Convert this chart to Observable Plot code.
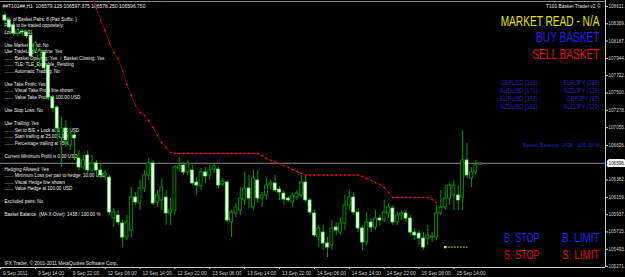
<!DOCTYPE html>
<html><head><meta charset="utf-8">
<script src="https://cdn.jsdelivr.net/npm/d3@7"></script>
<script src="https://cdn.jsdelivr.net/npm/@observablehq/plot@0.6"></script>
<style>html,body{margin:0;padding:0;background:#000;overflow:hidden;}</style>
</head><body><div id="chart"></div>
<script>
// ---------- data ----------
const symbolTitle = "##T101##,H1";
const bars = [1,2,3,4,5,6,7,8,9,10,11,12,13,14,15,16,17,18,19,20,21,22,23,24,25,26,27,28,29,30,31,32,33,34,35,36,37,38,39,40,41,42,43,44,45,46,47,48,49,50,51,52,53,54,55,56,57,58,59,60,61,62,63,64,65,66,67,68,69,70,71,72,73,74,75,76,77,78,79,80,81,82,83,84,85,86,87,88,89,90,91,92,93,94,95,96,97,98,99,100,101,102,103,104,105,106,107,108,109,110];
const open = [108495,108431,108367,108264,108290,108277,108238,108046,107943,108020,107853,107442,107314,106928,107044,106825,106954,106658,106543,106697,106504,106594,106504,106440,106414,105887,105926,105823,105643,105733,106157,106080,106273,106440,106594,106093,106119,106157,105952,105990,106530,106568,106479,106504,106350,106298,106479,106440,106517,106517,106324,106350,105836,105952,105990,106119,106273,106029,106376,106144,106183,106311,106337,106260,106208,106144,106093,106157,106183,106350,106119,105952,105643,105707,105566,105540,105772,105707,105823,106054,106157,105964,105759,105579,105836,105772,105887,105862,105952,106016,105836,105926,105952,105887,105707,105694,105630,105630,105643,105643,105952,106029,106144,106183,106183,106157,106633,106401,106479,106579.125];
const high = [108534,108470,108405,108328,108315,108303,108264,108161,108071,108046,107892,107468,107339,107185,107146,107018,107018,106761,106697,106761,106697,106633,106594,106504,106440,106016,105990,105862,105926,106286,106221,106376,106504,106658,106633,106247,106401,106247,106144,106568,106671,106607,106633,106568,106414,106530,106543,106568,106594,106543,106401,106376,105990,106080,106286,106479,106440,106504,106504,106221,106401,106376,106440,106298,106247,106170,106208,106247,106440,106440,106144,105990,105797,105797,105643,105862,105836,105887,106183,106247,106221,106016,105797,105964,105887,105990,105926,106119,106080,106054,105964,105990,105990,105926,105759,105733,105707,105797,105707,106054,106247,106311,106337,106376,106311,107018,106851,106543,106633,106597.375];
const low = [108380,108303,108226,108213,108226,108200,107943,108020,107827,107789,107403,107249,106890,106543,106800,106761,106633,106504,106504,106440,106479,106440,106401,106376,105926,105772,105797,105514,105605,105643,106054,105990,106221,106376,106054,106029,105990,105797,105797,105926,106479,106440,106440,106311,106183,106247,106337,106376,106466,106273,106298,105836,105643,105900,105926,106054,106016,105990,106080,106029,106119,106247,106221,106119,106054,106093,106029,106119,106157,106093,105926,105643,105514,105476,105386,105476,105669,105669,105733,105990,105926,105707,105476,105540,105707,105733,105797,105836,105887,105797,105797,105862,105836,105669,105605,105540,105476,105540,105579,105605,105926,105990,106054,105990,105990,105990,106401,106286,106440,106578.25];
const close = [108431,108341,108264,108303,108277,108226,107969,108136,108033,107815,107442,107301,107044,107044,106890,106980,106915,106543,106633,106504,106594,106504,106440,106466,105964,105964,105836,105643,105836,106157,106093,106273,106440,106594,106080,106183,106286,105952,105990,106543,106556,106479,106594,106337,106311,106479,106427,106504,106556,106311,106363,105862,105964,106029,106144,106273,106144,106401,106144,106183,106311,106337,106247,106221,106131,106119,106183,106208,106350,106119,105964,105669,105759,105566,105514,105759,105733,105823,106054,106157,105964,105759,105579,105836,105772,105887,105862,105964,106029,105836,105926,105952,105887,105707,105669,105630,105514,105669,105656,105952,106029,106144,106311,106311,106119,106633,106440,106479,106568,106596.75];

// red dotted (take-profit / trailing) line
const redBars = [20,21,22,23,24,25,26,27,28,29,30,31,32,33,34,35,36,37,38,39,40,41,42,43,44,45,46,47,48,49,50,51,52,53,54,55,56,57,58,59,60,61,62,63,64,65,66,67,68,69,70,71,72,73,74,75,76,77,78,79,80,81,82,83,84,85,86,87,88,89,90,91,92,93,94,95,96,97,98,99,100];
const redValues = [108945,108752,108585,108431,108303,108136,108020,107943,107789,107609,107468,107339,107249,107211,107146,107057,106954,106864,106800,106735,106723,106723,106723,106723,106723,106723,106723,106723,106723,106723,106723,106723,106723,106723,106723,106723,106723,106723,106723,106723,106697,106658,106633,106620,106594,106568,106543,106517,106491,106466,106446,106446,106446,106446,106446,106446,106446,106446,106446,106446,106446,106446,106446,106427,106401,106376,106350,106324,106286,106221,106157,106157,106157,106157,106157,106157,106157,106157,106157,106131,106093];

// yellow-green short line
const ygBars = [102,103,104,105,106,107];
const ygValues = [105520,105520,105520,105520,105520,105520];

// axes
const priceTicks = [108611,108389,108167,107944,107722,107500,107278,107055,106826,106382,106159,105937,105715,105493,105271];
const timeTicks = [0,8,16,24,32,40,48,56,64,72,80,88,96,104];
const timeLabels = ["9 Sep 2011","9 Sep 14:00","9 Sep 22:00","12 Sep 06:00","12 Sep 14:00","12 Sep 22:00","13 Sep 06:00","13 Sep 14:00","13 Sep 22:00","14 Sep 06:00","14 Sep 14:00","14 Sep 22:00","15 Sep 06:00","15 Sep 14:00"];

// texts
const infoLines = [
"No. of Basket Pairs: 8 (Pair Suffix: )",
"Pairs to be traded oppositely: ",
"Lot Size: 0.01",
"",
"Use Market Read: No",
"Use TradeLogic Engine: Yes",
"....... Basket Opening: Yes  /  Basket Closing: Yes",
"....... TLE: TLE_Example_Pending",
"....... Automatic Trading: No",
"",
"Use Take Profit: Yes",
"....... Visual Take Profit line shown",
"....... Value Take Profit at 100.00 USD",
"",
"Use Stop Loss: No",
"",
"Use Trailing: Yes",
"....... Set to B/E + Lock at 10.00 USD",
"....... Start trailing at 25.00 USD",
"....... Percentage trailing at 75%",
"",
"Current Minimum Profit is 0.00 USD",
"",
"Hedging Allowed: Yes",
"....... Minimum Loss per pair to hedge: 10.00 USD",
"....... Visual Hedge line shown",
"....... Value Hedge at 100.00 USD",
"",
"Excluded pairs: No",
"",
"Basket Balance  (MA X-Over): 1438 / 100.00 %"
];
const copyrightText = "IFX Trader, \u00a9 2001-2011 MetaQuotes Software Corp.";
const eaTitle = "T101 Basket Trader v2 \u00a9";
const marketRead = "MARKET READ - N/A";
const buyBasket = "BUY BASKET";
const sellBasket = "SELL BASKET";
const pairsLeft = ["GBPUSD (110)","AUDUSD (171)","EURUSD (372)","NZDUSD (162)"];
const pairsRight = ["EURJPY (289)","NZDJPY (129)","GBPJPY (83)","AUDJPY (120)"];
const basketBalance = "Basket Balance: 1438 / 100.00 %";
const bStop = "B. STOP", bLimit = "B. LIMIT", sStop = "S. STOP", sLimit = "S. LIMIT";

// ---------- build ----------
const candles = bars.map((b, i) => ({b, o: open[i], h: high[i], l: low[i], c: close[i]}));
const redPts = redBars.map((b, i) => ({b, v: redValues[i]}));
const ygPts = ygBars.map((b, i) => ({b, v: ygValues[i]}));
const last = candles[candles.length - 1];
const titleText = `${symbolTitle}  ${last.o.toFixed(3)} ${last.h.toFixed(3)} ${last.l.toFixed(3)} ${last.c.toFixed(3)}`;
const timeMap = new Map(timeTicks.map((t, i) => [t, timeLabels[i]]));
const xDomain = [0, 138.76];
const yDomain = [105258, 108688];
const font = "'Liberation Sans', Arial, sans-serif";
const lcdFill = {yellow: "#e2e200", blue: "#2222f0", red: "#e01010", dimBlue: "#2626b8"};

const chart = Plot.plot({
  width: 625, height: 277,
  marginLeft: 0, marginRight: 20, marginTop: 0, marginBottom: 10,
  style: {background: "#000", color: "#d0d0d0", fontFamily: font, fontSize: "4.8px"},
  x: {domain: xDomain, axis: null},
  y: {domain: yDomain, axis: null},
  marks: [
    // left info block (behind chart)
    Plot.text([infoLines.map(s => s || "\u00a0").join("\n")], {frameAnchor: "top-left", dx: 4, dy: 15.4, lineAnchor: "top", textAnchor: "start", fontSize: 4.6, lineHeight: 1.42, fill: "#ececec"}),
    Plot.text([titleText], {frameAnchor: "top-left", dx: 2, dy: 5.5, lineAnchor: "middle", textAnchor: "start", fontSize: 5, fill: "#e6e6e6"}),
    Plot.text([copyrightText], {frameAnchor: "top-left", dx: 4, dy: 263, lineAnchor: "middle", textAnchor: "start", fontSize: 4.8, fill: "#e0e0e0"}),
    // frame lines
    Plot.ruleY([yDomain[1]], {stroke: "#8a8a8a", dy: 1}),
    Plot.ruleY([yDomain[0]], {stroke: "#c8c8c8"}),
    Plot.ruleX([xDomain[1]], {stroke: "#c8c8c8"}),
    // bid line
    Plot.ruleY([last.c], {stroke: "#8c8c8c", strokeWidth: 1}),
    // red trailing line
    Plot.line(redPts, {x: "b", y: "v", stroke: "#8a0000", strokeWidth: 1, clip: true}),
    Plot.dot(redPts, {x: "b", y: "v", symbol: "square", r: 0.8, fill: "#ff2020", clip: true}),
    // candles
    Plot.ruleX(candles, {x: "b", y1: "l", y2: "h", stroke: "#009c00", strokeWidth: 1}),
    Plot.rect(candles, {filter: d => d.c < d.o, x1: d => d.b - 0.34, x2: d => d.b + 0.34, y1: "o", y2: "c", fill: "#ffffff", stroke: "#38ff38", strokeWidth: 0.7}),
    Plot.rect(candles, {filter: d => d.c >= d.o, x1: d => d.b - 0.34, x2: d => d.b + 0.34, y1: "o", y2: "c", fill: "#000000", stroke: "#00a800", strokeWidth: 0.8}),
    // yellow-green line
    Plot.line(ygPts, {x: "b", y: "v", stroke: "#a8e000", strokeWidth: 1, strokeDasharray: "1.2,1.8"}),
    Plot.dot([ygPts[0]], {x: "b", y: "v", r: 1.4, fill: "#b4f000"}),
    // right-side labels
    Plot.text([eaTitle], {frameAnchor: "top-right", dx: -5, dy: 6, lineAnchor: "middle", textAnchor: "end", fontSize: 4.9, fill: "#e6e6e6"}),
    Plot.text([marketRead], {frameAnchor: "top-right", dx: -6, dy: 20.5, lineAnchor: "middle", textAnchor: "end", fontSize: 13, fill: lcdFill.yellow}),
    Plot.text([buyBasket], {frameAnchor: "top-right", dx: -6, dy: 37, lineAnchor: "middle", textAnchor: "end", fontSize: 13, fill: lcdFill.blue}),
    Plot.text([sellBasket], {frameAnchor: "top-right", dx: -6, dy: 53.5, lineAnchor: "middle", textAnchor: "end", fontSize: 13, fill: lcdFill.red}),
    Plot.text([pairsLeft.join("\n")], {frameAnchor: "top-right", dx: -68, dy: 78.7, lineAnchor: "top", textAnchor: "end", fontSize: 6.5, lineHeight: 1.23, fill: lcdFill.dimBlue}),
    Plot.text([pairsRight.join("\n")], {frameAnchor: "top-right", dx: -6, dy: 78.7, lineAnchor: "top", textAnchor: "end", fontSize: 6.5, lineHeight: 1.23, fill: lcdFill.dimBlue}),
    Plot.text([basketBalance], {frameAnchor: "top-right", dx: -6, dy: 145, lineAnchor: "middle", textAnchor: "end", fontSize: 5.2, fill: "#2424b4"}),
    Plot.text([bStop], {frameAnchor: "top-right", dx: -66, dy: 238, lineAnchor: "middle", textAnchor: "end", fontSize: 11, fill: lcdFill.blue}),
    Plot.text([bLimit], {frameAnchor: "top-right", dx: -6, dy: 238, lineAnchor: "middle", textAnchor: "end", fontSize: 11, fill: lcdFill.blue}),
    Plot.text([sStop], {frameAnchor: "top-right", dx: -66, dy: 255, lineAnchor: "middle", textAnchor: "end", fontSize: 11, fill: lcdFill.red}),
    Plot.text([sLimit], {frameAnchor: "top-right", dx: -6, dy: 255, lineAnchor: "middle", textAnchor: "end", fontSize: 11, fill: lcdFill.red}),
    // axes
    Plot.axisY({anchor: "right", ticks: priceTicks, tickFormat: d => d + ".", tickSize: 2, tickPadding: 1, fontSize: 4.6, label: null}),
    Plot.axisX({anchor: "bottom", ticks: timeTicks, tickFormat: () => "", tickSize: 2, label: null}),
    Plot.axisX({anchor: "bottom", ticks: timeTicks, tickFormat: d => timeMap.get(d), tickSize: 0, tickPadding: 4, textAnchor: "start", dx: 2.5, fontSize: 4.9, label: null}),
    // current price box
    Plot.text([last.c], {y: d => d, frameAnchor: "right", dx: 3, textAnchor: "start", text: d => Math.floor(d) + ".", fill: "#000", stroke: "#fff", strokeWidth: 4, fontSize: 4.6})
  ]
});

// LCD-style narrow/tall text: append a scale to each matching text element's own transform
const lcdScale = new Map([
  [marketRead, [0.78, 1.12]], [buyBasket, [0.78, 1.1]], [sellBasket, [0.78, 1.1]],
  [pairsLeft.join(""), [0.85, 1]], [pairsRight.join(""), [0.85, 1]],
  [bStop, [0.82, 1.1]], [bLimit, [0.9, 1.1]], [sStop, [0.82, 1.1]], [sLimit, [0.9, 1.1]]
]);
chart.querySelectorAll("text").forEach(el => {
  const s = lcdScale.get(el.textContent);
  if (!s) return;
  let t = el.getAttribute("transform") || "";
  const xa = el.getAttribute("x");
  if (xa != null && /^-?[\d.]+$/.test(xa)) { t += ` translate(${xa},0)`; el.removeAttribute("x"); }
  el.setAttribute("transform", `${t} scale(${s[0]},${s[1]})`);
});
document.getElementById("chart").appendChild(chart);
</script></body></html>
